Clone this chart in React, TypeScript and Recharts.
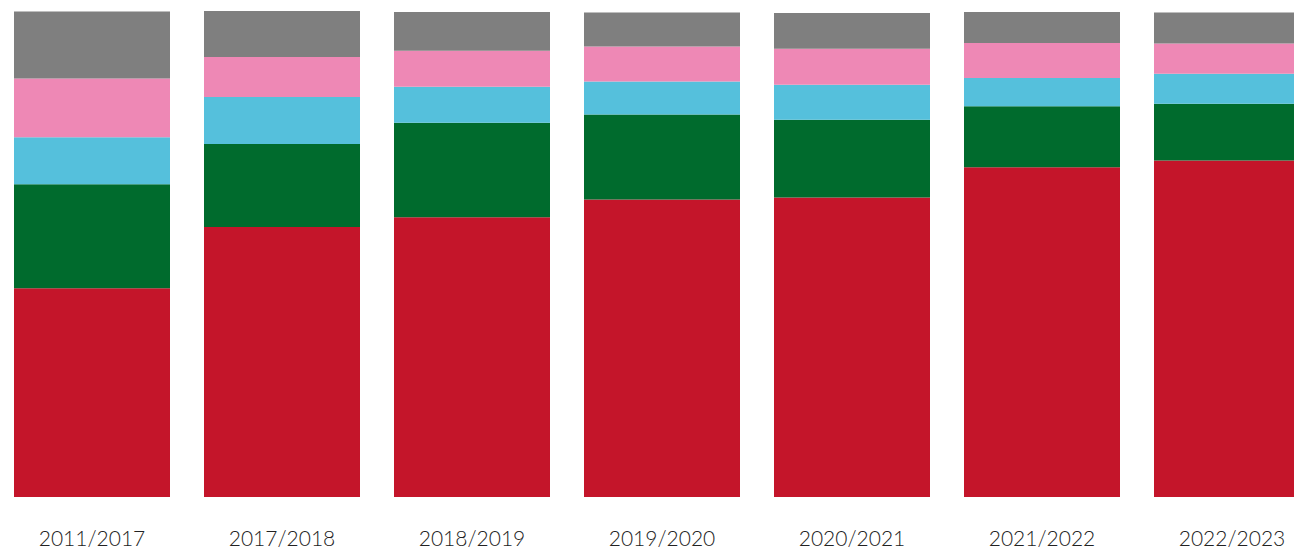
import { Bar, BarChart, XAxis, YAxis } from "recharts";

const years = ["2011/2017", "2017/2018", "2018/2019", "2019/2020", "2020/2021", "2021/2022", "2022/2023"];
const red = [43.0, 55.6, 57.6, 61.3, 61.7, 67.9, 69.3];
const green = [21.4, 17.1, 19.5, 17.5, 16.0, 12.6, 11.7];
const blue = [9.7, 9.7, 7.4, 6.8, 7.2, 5.8, 6.2];
const pink = [12.1, 8.2, 7.4, 7.2, 7.4, 7.2, 6.2];
const gray = [13.8, 9.5, 8.0, 7.0, 7.4, 6.4, 6.4];

const series = [
  { key: "red", color: "#C4152A" },
  { key: "green", color: "#006B2D" },
  { key: "blue", color: "#55C0DC" },
  { key: "pink", color: "#EE88B5" },
  { key: "gray", color: "#7F7F7F" },
];

const data = years.map((year, i) => ({
  year,
  red: red[i],
  green: green[i],
  blue: blue[i],
  pink: pink[i],
  gray: gray[i],
}));

export default function App() {
  return (
    <div style={{ position: "fixed", left: 0, top: 0, width: 1294, height: 552, overflow: "hidden", background: "#fff" }}>
      <div style={{ marginLeft: -3 }}>
        <BarChart
          width={1330}
          height={552}
          data={data}
          margin={{ top: 11, right: 0, bottom: 0, left: 0 }}
          barCategoryGap={17}
        >
          <XAxis
            dataKey="year"
            axisLine={false}
            tickLine={false}
            height={55}
            tickMargin={28}
            tick={{ fontSize: 21, fill: "#222", fontFamily: "Lato", fontWeight: 300 }}
            interval={0}
          />
          <YAxis hide domain={[0, 100]} />
          {series.map((s) => (
            <Bar key={s.key} dataKey={s.key} stackId="a" fill={s.color} isAnimationActive={false} />
          ))}
        </BarChart>
      </div>
    </div>
  );
}
